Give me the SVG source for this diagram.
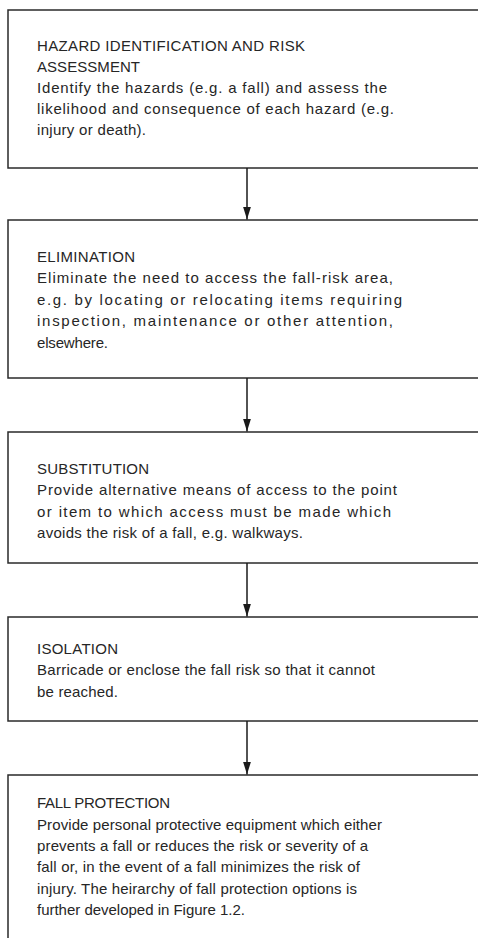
<svg xmlns="http://www.w3.org/2000/svg" width="478" height="938" viewBox="0 0 478 938">
<style>
.box{fill:#fff;stroke:#2a2a2a;stroke-width:1.5}
.t{font-family:"Liberation Sans",Arial,sans-serif;font-size:15px;fill:#262626}
.conn{stroke:#1a1a1a;stroke-width:1.5;fill:none}
</style>
<defs>
<marker id="ah" markerWidth="13" markerHeight="8" refX="13" refY="4" orient="auto" markerUnits="userSpaceOnUse" viewBox="0 0 13 8">
<path d="M0,0 L13,4 L0,8 Z" fill="#1a1a1a"/>
</marker>
</defs>
<rect width="478" height="938" fill="#fff"/>
<g id="n1">
<rect class="box" x="8" y="10" width="480" height="158"/>
<text class="t" x="37" y="51" textLength="268" lengthAdjust="spacing">HAZARD IDENTIFICATION AND RISK</text>
<text class="t" x="37" y="72" textLength="103" lengthAdjust="spacing">ASSESSMENT</text>
<text class="t" x="37" y="93" textLength="350" lengthAdjust="spacing">Identify the hazards (e.g. a fall) and assess the</text>
<text class="t" x="37" y="114" textLength="357" lengthAdjust="spacing">likelihood and consequence of each hazard (e.g.</text>
<text class="t" x="37" y="135" textLength="109" lengthAdjust="spacing">injury or death).</text>
</g>
<g id="n2">
<rect class="box" x="8" y="220" width="480" height="158"/>
<text class="t" x="37" y="262" textLength="98" lengthAdjust="spacing">ELIMINATION</text>
<text class="t" x="37" y="283" textLength="356" lengthAdjust="spacing">Eliminate the need to access the fall-risk area,</text>
<text class="t" x="37" y="305" textLength="365" lengthAdjust="spacing">e.g. by locating or relocating items requiring</text>
<text class="t" x="37" y="326" textLength="356" lengthAdjust="spacing">inspection, maintenance or other attention,</text>
<text class="t" x="37" y="348" textLength="71" lengthAdjust="spacing">elsewhere.</text>
</g>
<g id="n3">
<rect class="box" x="8" y="432" width="480" height="131"/>
<text class="t" x="37" y="474" textLength="112" lengthAdjust="spacing">SUBSTITUTION</text>
<text class="t" x="37" y="495" textLength="360" lengthAdjust="spacing">Provide alternative means of access to the point</text>
<text class="t" x="37" y="517" textLength="354" lengthAdjust="spacing">or item to which access must be made which</text>
<text class="t" x="37" y="538" textLength="266" lengthAdjust="spacing">avoids the risk of a fall, e.g. walkways.</text>
</g>
<g id="n4">
<rect class="box" x="8" y="617" width="480" height="104"/>
<text class="t" x="37" y="654" textLength="81" lengthAdjust="spacing">ISOLATION</text>
<text class="t" x="37" y="675" textLength="338" lengthAdjust="spacing">Barricade or enclose the fall risk so that it cannot</text>
<text class="t" x="37" y="697" textLength="81" lengthAdjust="spacing">be reached.</text>
</g>
<g id="n5">
<rect class="box" x="8" y="775" width="480" height="180"/>
<text class="t" x="37" y="808" textLength="133" lengthAdjust="spacing">FALL PROTECTION</text>
<text class="t" x="37" y="830" textLength="345" lengthAdjust="spacing">Provide personal protective equipment which either</text>
<text class="t" x="37" y="851" textLength="331" lengthAdjust="spacing">prevents a fall or reduces the risk or severity of a</text>
<text class="t" x="37" y="872" textLength="323" lengthAdjust="spacing">fall or, in the event of a fall minimizes the risk of</text>
<text class="t" x="37" y="894" textLength="320" lengthAdjust="spacing">injury. The heirarchy of fall protection options is</text>
<text class="t" x="37" y="915" textLength="208" lengthAdjust="spacing">further developed in Figure 1.2.</text>
</g>
<g id="connectors">
<line class="conn" x1="247" y1="168" x2="247" y2="219.5" marker-end="url(#ah)"/>
<line class="conn" x1="247" y1="378" x2="247" y2="431.5" marker-end="url(#ah)"/>
<line class="conn" x1="247" y1="563" x2="247" y2="616.5" marker-end="url(#ah)"/>
<line class="conn" x1="247" y1="721" x2="247" y2="774.5" marker-end="url(#ah)"/>
</g>
</svg>
